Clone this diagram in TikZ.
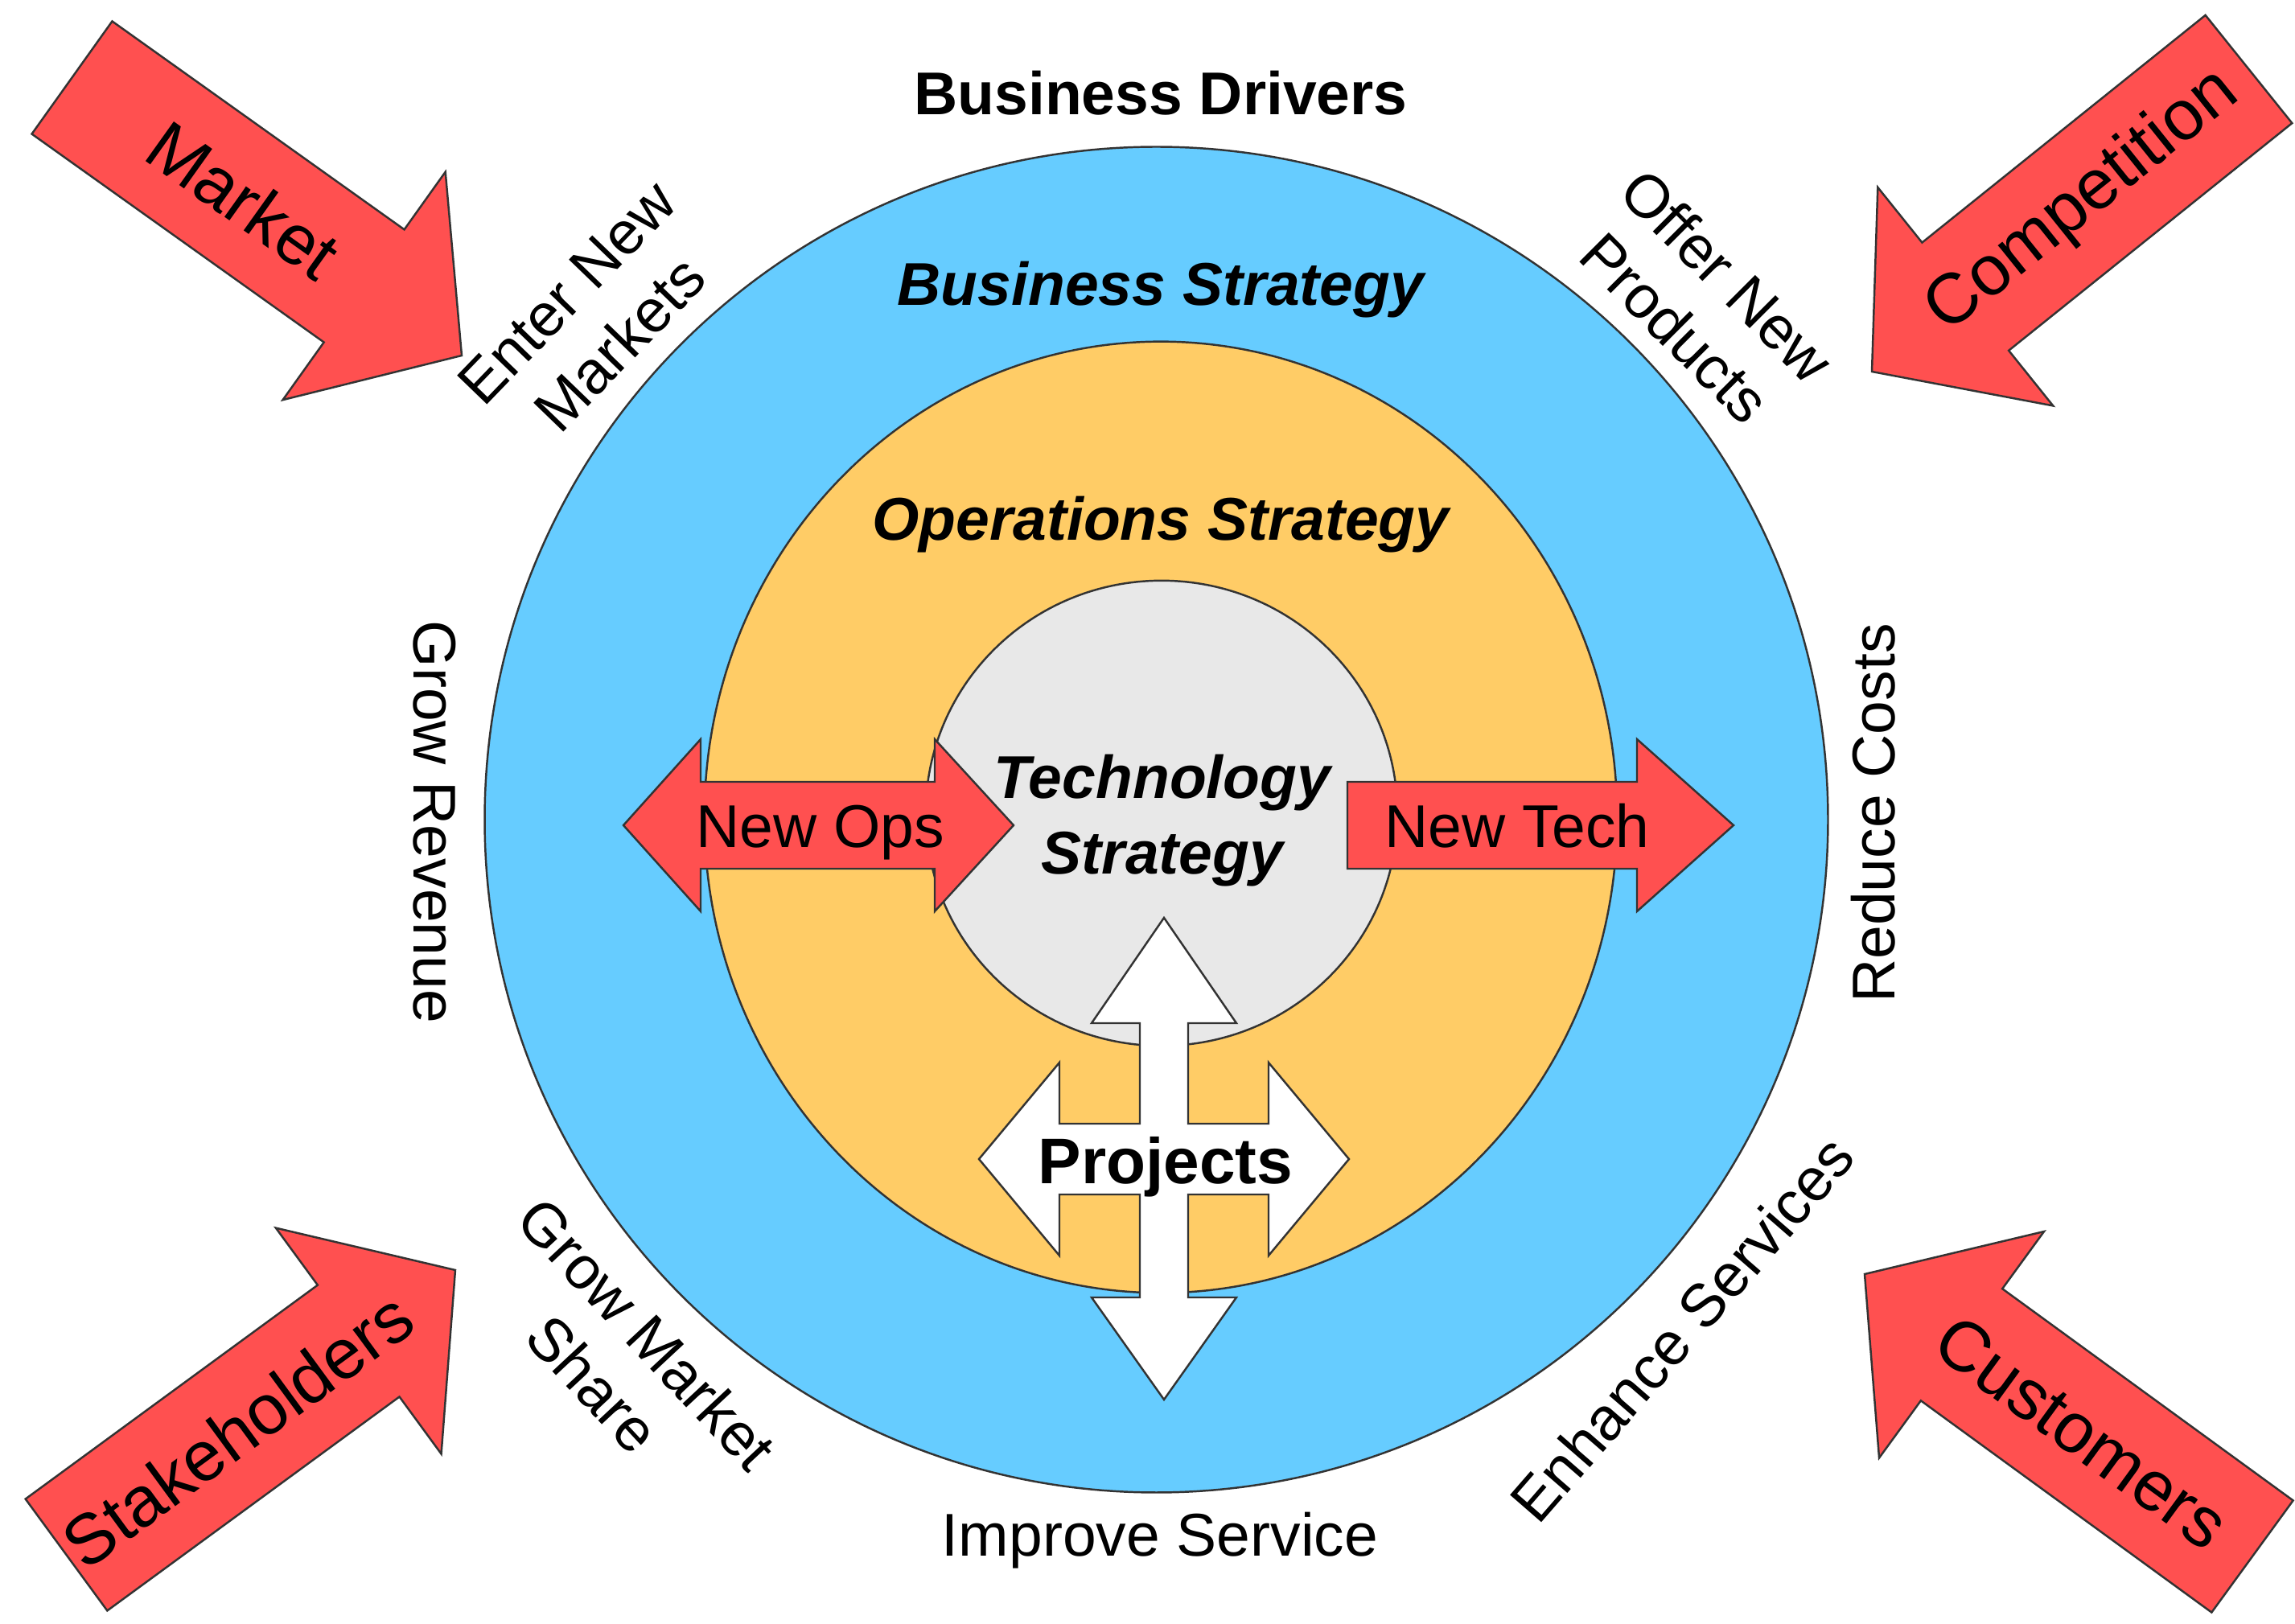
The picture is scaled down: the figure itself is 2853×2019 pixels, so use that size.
\documentclass[tikz,border=0pt]{standalone}
\usepackage{fontspec}
\setmainfont{Liberation Sans}
\usetikzlibrary{calc}
\definecolor{bluefill}{HTML}{66CCFF}
\definecolor{orangefill}{HTML}{FFCC66}
\definecolor{greyfill}{HTML}{E8E8E8}
\definecolor{redfill}{HTML}{FF5050}
\definecolor{edgecol}{HTML}{333333}
\newcommand{\outerarrow}[2]{%
  \coordinate (bb) at ($(#2)!1.49cm!(#1)$);
  \draw[redshape] ($(#1)!0.86cm!90:(#2)$) -- ($(bb)!0.86cm!90:(#2)$) -- ($(bb)!1.74cm!90:(#2)$) -- (#2) -- ($(bb)!1.74cm!-90:(#2)$) -- ($(bb)!0.86cm!-90:(#2)$) -- ($(#1)!0.86cm!-90:(#2)$) -- cycle;}
\begin{document}
\begin{tikzpicture}[x=0.01cm, y=-0.01cm,
  ring/.style={draw=edgecol, line width=0.7pt},
  redshape/.style={draw=edgecol, line width=0.7pt, fill=redfill},
  whiteshape/.style={draw=edgecol, line width=0.7pt, fill=white},
  txt/.style={font=\fontsize{21.34}{26}\selectfont, inner sep=0pt, text=black},
  btxt/.style={font=\fontsize{21.34}{26}\selectfont\bfseries, inner sep=0pt, text=black},
  bitxt/.style={font=\fontsize{21.34}{26.7}\selectfont\bfseries\itshape, inner sep=0pt, text=black},
  projtxt/.style={font=\fontsize{22.8}{27}\selectfont\bfseries, inner sep=0pt, text=black},
  cornertxt/.style={font=\fontsize{25}{30}\selectfont, inner sep=0pt, text=black}]
\useasboundingbox (0,0) rectangle (2853,2019);

% concentric strategy rings
\draw[ring, fill=bluefill] (1437.5,1019) ellipse [x radius=8.345cm, y radius=8.36cm];
\draw[ring, fill=orangefill] (1443,1016) ellipse [x radius=5.67cm, y radius=5.91cm];
\draw[ring, fill=greyfill] (1444,1011) ellipse [x radius=2.93cm, y radius=2.89cm];

% New Ops double arrow
\draw[redshape] (775,1026) -- (871,919) -- (871,972) -- (1162,972) -- (1162,919) -- (1260,1026)
  -- (1162,1133) -- (1162,1080) -- (871,1080) -- (871,1133) -- cycle;
% New Tech arrow
\draw[redshape] (1675,972) -- (2035,972) -- (2035,919) -- (2155,1026) -- (2035,1133) -- (2035,1080) -- (1675,1080) -- cycle;
% Projects cross arrow
\draw[whiteshape] (1447,1141) -- (1537,1272) -- (1477,1272) -- (1477,1397) -- (1577,1397) -- (1577,1321)
  -- (1677,1441) -- (1577,1561) -- (1577,1485) -- (1477,1485) -- (1477,1613) -- (1537,1613)
  -- (1447,1740) -- (1357,1613) -- (1417,1613) -- (1417,1485) -- (1317,1485) -- (1317,1561)
  -- (1217,1441) -- (1317,1321) -- (1317,1397) -- (1417,1397) -- (1417,1272) -- (1357,1272) -- cycle;

% inner texts
\node[btxt, anchor=base] (drivers) at (1443,143) {Business Drivers};
\node[bitxt, anchor=base] (busstrat) at (1443,380) {Business Strategy};
\node[bitxt, anchor=base] (opsstrat) at (1443,672) {Operations Strategy};
\node[bitxt, align=center] (techstrat) at (1445,1020) {Technology\\Strategy};
\node[txt, anchor=base] (newops) at (1020,1054) {New Ops};
\node[txt, anchor=base] (newtech) at (1886,1054) {New Tech};
\node[projtxt, anchor=base] (projects) at (1449,1472) {Projects};

% side labels
\node[txt, anchor=base] (improve) at (1442,1934) {Improve Service};
\node[txt, anchor=base, rotate=-90] (growrev) at (514,1022) {Grow Revenue};
\node[txt, anchor=base, rotate=90] (reduce) at (2355,1011) {Reduce Costs};
\node[txt, align=center, rotate=46] (enter) at (738,396) {Enter New\\Markets};
\node[txt, align=center, rotate=-45] (offer) at (2115,375) {Offer New\\Products};
\node[txt, align=center, rotate=-47] (growms) at (771,1689) {Grow Market\\Share};
\node[txt, rotate=49] (enhance) at (2091,1652) {Enhance Services};

% outer driver arrows
\coordinate (mT) at (89.5,96.5);   \coordinate (mP) at (574,442);
\coordinate (cT) at (2795.5,86);   \coordinate (cP) at (2327,462);
\coordinate (sT) at (82.5,1933);   \coordinate (sP) at (566,1579);
\coordinate (uT) at (2800,1935);   \coordinate (uP) at (2318,1584);
\outerarrow{mT}{mP}
\outerarrow{cT}{cP}
\outerarrow{sT}{sP}
\outerarrow{uT}{uP}
\path (mT) -- (mP) node[cornertxt, pos=0.44, sloped] (lblmarket) {Market};
\path (cT) -- (cP) node[cornertxt, pos=0.44, sloped] (lblcomp) {Competition};
\path (sT) -- (sP) node[cornertxt, pos=0.44, sloped] (lblstake) {Stakeholders};
\path (uT) -- (uP) node[cornertxt, pos=0.44, sloped] (lblcust) {Customers};
\end{tikzpicture}
\end{document}
